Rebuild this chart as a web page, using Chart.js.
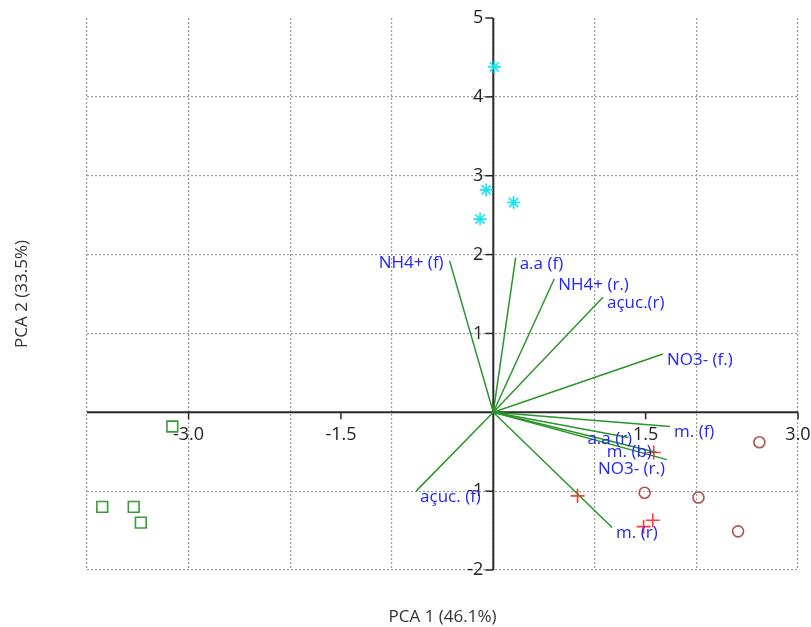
<!DOCTYPE html>
<html>
<head>
<meta charset="utf-8">
<script src="https://cdn.jsdelivr.net/npm/chart.js@4"></script>
<style>
  html, body { margin: 0; padding: 0; background: #fff; }
</style>
</head>
<body>
<canvas id="pca" width="811" height="627"></canvas>
<script>
// sample scores, one pair of arrays per group
const cyanX = [0.01, -0.07, 0.20, -0.13];
const cyanY = [4.38, 2.82, 2.66, 2.45];
const greenX = [-3.16, -3.85, -3.54, -3.47];
const greenY = [-0.18, -1.20, -1.20, -1.40];
const redX = [0.83, 1.58, 1.57, 1.48];
const redY = [-1.06, -0.51, -1.37, -1.45];
const brownX = [2.62, 1.49, 2.02, 2.41];
const brownY = [-0.38, -1.02, -1.08, -1.51];

// variable loadings (biplot vectors)
const loadingNames = ['NH4+ (f)', 'a.a (f)', 'NH4+ (r.)', 'açuc.(r)', 'NO3- (f.)', 'm. (f)',
  'a.a (r)', 'm. (b)', 'NO3- (r.)', 'açuc. (f)', 'm. (r)'];
const loadingX = [-0.43, 0.22, 0.60, 1.08, 1.67, 1.74, 1.33, 1.61, 1.71, -0.76, 1.17];
const loadingY = [1.92, 1.96, 1.69, 1.46, 0.74, -0.18, -0.32, -0.51, -0.60, -1.00, -1.46];

// axis tick labels
const xTicks = [-3.0, -1.5, 1.5, 3.0];
const yTicks = [5, 4, 3, 2, 1, -1, -2];

const xTitle = 'PCA 1 (46.1%)';
const yTitle = 'PCA 2 (33.5%)';

const FONT = '"Open Sans", "Noto Sans", sans-serif';
const GRID = '#9c9c9c';

function pts(xs, ys) {
  return xs.map((x, i) => ({ x: x, y: ys[i] }));
}

const datasets = [];
loadingNames.forEach((name, i) => {
  datasets.push({
    label: name,
    data: [{ x: 0, y: 0 }, { x: loadingX[i], y: loadingY[i] }],
    showLine: true,
    borderColor: '#2a952a',
    borderWidth: 1.5,
    pointRadius: 0
  });
});
datasets.push(
  { label: 'g1', data: pts(cyanX, cyanY), pointStyle: 'star', pointRadius: 6.5,
    borderColor: '#14e6f2', backgroundColor: '#14e6f2', pointBorderWidth: 1.6 },
  { label: 'g2', data: pts(greenX, greenY), pointStyle: 'rect', pointRadius: 7.6,
    borderColor: '#3a9a3a', backgroundColor: 'rgba(0,0,0,0)', pointBorderWidth: 1.6 },
  { label: 'g3', data: pts(redX, redY), pointStyle: 'cross', pointRadius: 7,
    borderColor: '#ff3b3b', backgroundColor: '#ff3b3b', pointBorderWidth: 1.6 },
  { label: 'g4', data: pts(brownX, brownY), pointStyle: 'circle', pointRadius: 5.5,
    borderColor: '#b05252', backgroundColor: 'rgba(0,0,0,0)', pointBorderWidth: 1.6 }
);

// axes through the origin, tick marks and tick labels
const centerAxes = {
  id: 'centerAxes',
  beforeDatasetsDraw(chart) {
    const { ctx, chartArea, scales: { x, y } } = chart;
    const x0 = x.getPixelForValue(0);
    const y0 = y.getPixelForValue(0);
    ctx.save();
    ctx.strokeStyle = '#2a2a2a';
    ctx.lineWidth = 2;
    ctx.beginPath();
    ctx.moveTo(chartArea.left, y0);
    ctx.lineTo(chartArea.right, y0);
    ctx.moveTo(x0, chartArea.top);
    ctx.lineTo(x0, chartArea.bottom);
    ctx.stroke();

    ctx.lineWidth = 1.5;
    ctx.fillStyle = '#222';
    ctx.font = '18px ' + FONT;
    ctx.textAlign = 'right';
    ctx.textBaseline = 'middle';
    yTicks.forEach(v => {
      const py = y.getPixelForValue(v);
      ctx.beginPath();
      ctx.moveTo(x0 - 8, py);
      ctx.lineTo(x0, py);
      ctx.stroke();
      ctx.fillText(String(v), x0 - 10, py);
    });
    ctx.textAlign = 'center';
    xTicks.forEach(v => {
      const px = x.getPixelForValue(v);
      ctx.beginPath();
      ctx.moveTo(px, y0);
      ctx.lineTo(px, y0 + 7);
      ctx.stroke();
      ctx.fillText(v.toFixed(1), px, y0 + 23);
    });
    ctx.restore();
  },
  afterDatasetsDraw(chart) {
    const { ctx, chartArea, scales: { x, y } } = chart;
    ctx.save();
    // variable names at the vector tips
    const nudge = {
      'NH4+ (f)': [-6, 2, 'right'],
      'a.a (r)': [-41, 2, 'left'],
      'm. (b)': [-50, 0, 'left'],
      'NO3- (r.)': [-69, 10, 'left']
    };
    ctx.font = '17px ' + FONT;
    ctx.fillStyle = '#2424ff';
    ctx.textBaseline = 'middle';
    loadingNames.forEach((name, i) => {
      const px = x.getPixelForValue(loadingX[i]);
      const py = y.getPixelForValue(loadingY[i]);
      const n = nudge[name] || [4, 6, 'left'];
      ctx.textAlign = n[2];
      ctx.fillText(name, px + n[0], py + n[1]);
    });

    // axis titles
    ctx.fillStyle = '#333';
    ctx.font = '17px ' + FONT;
    ctx.textAlign = 'center';
    ctx.fillText(xTitle, (chartArea.left + chartArea.right) / 2, 617);
    ctx.translate(22, (chartArea.top + chartArea.bottom) / 2);
    ctx.rotate(-Math.PI / 2);
    ctx.fillText(yTitle, 0, 0);
    ctx.restore();
  }
};

new Chart(document.getElementById('pca'), {
  type: 'scatter',
  data: { datasets: datasets },
  options: {
    responsive: false,
    animation: false,
    layout: { padding: { left: 87, right: 13, top: 18, bottom: 57 } },
    plugins: { legend: { display: false }, tooltip: { enabled: false } },
    scales: {
      x: {
        min: -4, max: 3,
        ticks: { display: false, stepSize: 1 },
        grid: { drawTicks: false, color: GRID, lineWidth: 1.2 },
        border: { display: false, dash: [2, 2] }
      },
      y: {
        min: -2, max: 5,
        ticks: { display: false, stepSize: 1 },
        grid: {
          drawTicks: false, lineWidth: 1.2,
          color: c => (c.tick && c.tick.value === 5) ? 'rgba(0,0,0,0)' : GRID
        },
        border: { display: false, dash: [2, 2] }
      }
    }
  },
  plugins: [centerAxes]
});
</script>
</body>
</html>
